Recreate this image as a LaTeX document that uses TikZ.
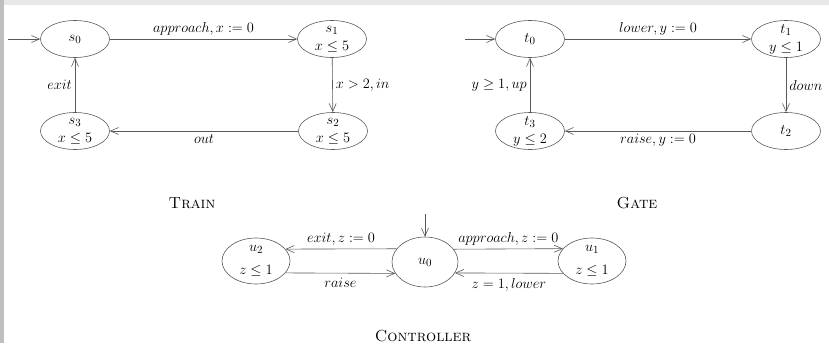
\documentclass[tikz,border=0pt]{standalone}
\usetikzlibrary{shapes.geometric,arrows.meta}
\begin{document}
\begin{tikzpicture}[x=1pt,y=-1pt,
  every node/.style={font=\fontsize{15}{17}\selectfont},
  st/.style={ellipse,draw=black!65,line width=0.6pt,minimum width=69pt,minimum height=37pt,inner sep=-5pt,align=center},
  cst/.style={st,minimum width=68pt,minimum height=46pt},
  tr/.style={draw=black!65,line width=0.6pt,-{Straight Barb[length=8pt,width=7pt]}},
  lab/.style={inner sep=3pt},
  ttl/.style={font=\fontsize{16}{18}\selectfont\scshape}]
\useasboundingbox (0,0) rectangle (829,343);
\fill[black!9] (0,0) rectangle (829,5);
\fill[black!25] (0,0) rectangle (4,343);
% Train
\node[st] (s0) at (75,39) {$s_0$};
\node[st] (s1) at (332,39) {$s_1$\\[1pt]$x\leq 5$};
\node[st] (s2) at (333,131) {$s_2$\\[1pt]$x\leq 5$};
\node[st] (s3) at (75,131) {$s_3$\\[1pt]$x\leq 5$};
\coordinate (i0) at (8,39);
\draw[tr] (i0) -- (s0);
\draw[tr] (s0) -- node[lab,above]{$approach, x:=0$} (s1);
\draw[tr] (s1) -- node[lab,right]{$x>2, in$} (s2);
\draw[tr] (s2) -- node[lab,below]{$out$} (s3);
\draw[tr] (s3) -- node[lab,left]{$exit$} (s0);
\node[ttl] (train) at (192,203) {Train};
% Gate
\node[st] (t0) at (530,39) {$t_0$};
\node[st] (t1) at (786,39) {$t_1$\\[1pt]$y\leq 1$};
\node[st] (t2) at (786,131) {$t_2$};
\node[st] (t3) at (530,131) {$t_3$\\[1pt]$y\leq 2$};
\coordinate (i1) at (465,39);
\draw[tr] (i1) -- (t0);
\draw[tr] (t0) -- node[lab,above]{$lower, y:=0$} (t1);
\draw[tr] (t1) -- node[lab,right]{$down$} (t2);
\draw[tr] (t2) -- node[lab,below]{$raise, y:=0$} (t3);
\draw[tr] (t3) -- node[lab,left]{$y\geq 1, up$} (t0);
\node[ttl] (gate) at (637,203) {Gate};
% Controller
\node[cst] (u2) at (256,261) {$u_2$\\[6pt]$z\leq 1$};
\node[cst,minimum width=66pt,minimum height=50pt] (u0) at (425,262) {$u_0$};
\node[cst] (u1) at (592,261) {$u_1$\\[6pt]$z\leq 1$};
\coordinate (i2) at (425,214);
\draw[tr] (i2) -- (u0);
\draw[tr] (u0.155.3) -- node[lab,above]{$exit, z:=0$} (u2.22.5);
\draw[tr] (u2.-22.5) -- node[lab,below,yshift=-2pt]{$raise$} (u0.-159.6);
\draw[tr] (u0.24.7) -- node[lab,above]{$approach, z:=0$} (u1.157.5);
\draw[tr] (u1.-157.5) -- node[lab,below,yshift=-2pt]{$z=1, lower$} (u0.-20.4);
\node[ttl] (ctrl) at (423,336) {Controller};
\end{tikzpicture}
\end{document}
